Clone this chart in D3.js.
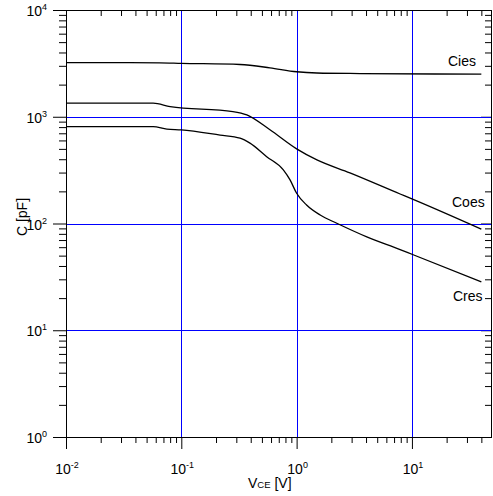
<!DOCTYPE html>
<html><head><meta charset="utf-8">
<script src="https://cdn.jsdelivr.net/npm/d3@7"></script>
<style>body{margin:0;background:#fff}svg{display:block;font-family:"Liberation Sans",Arial,sans-serif}</style>
</head><body><svg id="c" width="493" height="496"></svg>
<script>
// Data (V_CE in V, capacitance in pF)
const ciesV = [0.01, 0.065, 0.1, 0.323, 0.587, 1.0, 1.5, 3.55, 40];
const ciesC = [3220, 3200, 3165, 3085, 2873, 2640, 2570, 2540, 2508];
const coesV = [0.01, 0.057, 0.080, 0.28, 0.37, 0.587, 1.0, 1.5, 2.9, 7.9, 10, 40];
const coesC = [1340, 1340, 1246, 1119, 1042, 755, 500, 394, 298, 189, 170, 88.5];
const cresV = [0.01, 0.057, 0.075, 0.1, 0.217, 0.323, 0.394, 0.55, 0.767, 0.877, 1.0, 1.22, 1.6, 2.23, 4.06, 7.9, 10, 40];
const cresC = [809, 809, 765, 753, 673, 630, 566, 423, 318, 256, 192, 149, 120, 100.6, 75, 57, 51.5, 28.4];
const seriesNames = ["Cies", "Coes", "Cres"];
const xMajor = [0.01, 0.1, 1, 10];
const xExp = ["-2", "-1", "0", "1"];
const yMajor = [1, 10, 100, 1000, 10000];
const yExp = ["0", "1", "2", "3", "4"];

const svg = d3.select("#c");
const L = 66, R = 491, T = 10, B = 437;
const x = d3.scaleLog().domain([0.01, 48.5]).range([L, R]);
const y = d3.scaleLog().domain([1, 10000]).range([B, T]);

// minor ticks
const xMinor = [], yMinor = [];
for (let e = -2; e <= 1; e++) for (let m = 2; m <= 9; m++) { const v = m * Math.pow(10, e); if (v <= 48.5) xMinor.push(v); }
for (let e = 0; e <= 3; e++) for (let m = 2; m <= 9; m++) yMinor.push(m * Math.pow(10, e));

// axes helper
function drawTicks(axisGen, sel, values, size) {
  sel.call(axisGen.tickValues(values).tickSize(size).tickFormat(""));
  sel.select(".domain").remove();
  sel.selectAll(".tick line").attr("stroke", "#000");
}
const ax = svg.append("g");
drawTicks(d3.axisBottom(x), ax.append("g").attr("transform", `translate(0,${B})`), xMinor, 6);
drawTicks(d3.axisBottom(x), ax.append("g").attr("transform", `translate(0,${B})`), xMajor, 12);
drawTicks(d3.axisBottom(x), ax.append("g").attr("transform", `translate(0,${T})`), xMinor, 6);
drawTicks(d3.axisLeft(y), ax.append("g").attr("transform", `translate(${L},0)`), yMinor, 7);
drawTicks(d3.axisLeft(y), ax.append("g").attr("transform", `translate(${L},0)`), yMajor, 13);
drawTicks(d3.axisLeft(y), ax.append("g").attr("transform", `translate(${R},0)`), yMinor, 6);
drawTicks(d3.axisLeft(y), ax.append("g").attr("transform", `translate(${R},0)`), yMajor, 10);

// frame
svg.append("rect").attr("x", L + 0.5).attr("y", T + 0.5).attr("width", R - L).attr("height", B - T)
  .attr("fill", "none").attr("stroke", "#000").attr("stroke-width", 1);

// grid (drawn after axes)
const grid = svg.append("g").attr("class", "grid");
grid.selectAll(".gx").data(xMajor.slice(1)).enter().append("line").attr("class", "gx")
  .attr("x1", d => Math.round(x(d)) + 0.5).attr("x2", d => Math.round(x(d)) + 0.5)
  .attr("y1", T + 1).attr("y2", B).style("stroke", "#0000ff").style("stroke-width", "1px");
grid.selectAll(".gy").data(yMajor.slice(1, 4)).enter().append("line").attr("class", "gy")
  .attr("y1", d => Math.round(y(d)) + 0.5).attr("y2", d => Math.round(y(d)) + 0.5)
  .attr("x1", L + 1).attr("x2", R).style("stroke", "#0000ff").style("stroke-width", "1px");

// curves
const line = d3.line().x(d => x(d[0])).y(d => y(d[1])).curve(d3.curveMonotoneX);
const data = [d3.zip(ciesV, ciesC), d3.zip(coesV, coesC), d3.zip(cresV, cresC)];
svg.append("g").selectAll("path").data(data).join("path")
  .attr("d", line).attr("fill", "none").attr("stroke", "#000").attr("stroke-width", 1.3);

// curve labels
const labPos = [[448, 66], [452, 207], [453, 301]];
svg.append("g").selectAll("text").data(seriesNames).join("text")
  .attr("x", (d, i) => labPos[i][0]).attr("y", (d, i) => labPos[i][1])
  .attr("font-size", 14).attr("fill", "#000").text(d => d);

// tick labels
const xl = svg.append("g").attr("font-size", 14).attr("fill", "#000");
xMajor.forEach((v, i) => {
  const t = xl.append("text").attr("x", x(v) + 1).attr("y", 474).attr("text-anchor", "middle");
  t.append("tspan").text("10");
  t.append("tspan").attr("font-size", 9).attr("dy", -6).text(xExp[i]);
});
const yl = svg.append("g").attr("font-size", 14).attr("fill", "#000");
yMajor.forEach((v, i) => {
  const t = yl.append("text").attr("x", 47).attr("y", y(v) + 6).attr("text-anchor", "end");
  t.append("tspan").text("10");
  t.append("tspan").attr("font-size", 9).attr("dy", -6).text(yExp[i]);
});

// axis titles
const xt = svg.append("text").attr("x", 248).attr("y", 488).attr("font-size", 14);
xt.append("tspan").text("V");
xt.append("tspan").attr("font-size", 9.5).text("CE");
xt.append("tspan").text(" [V]");
svg.append("text").attr("transform", "translate(27,217) rotate(-90)").attr("text-anchor", "middle")
  .attr("font-size", 14).text("C [pF]");
</script></body></html>
